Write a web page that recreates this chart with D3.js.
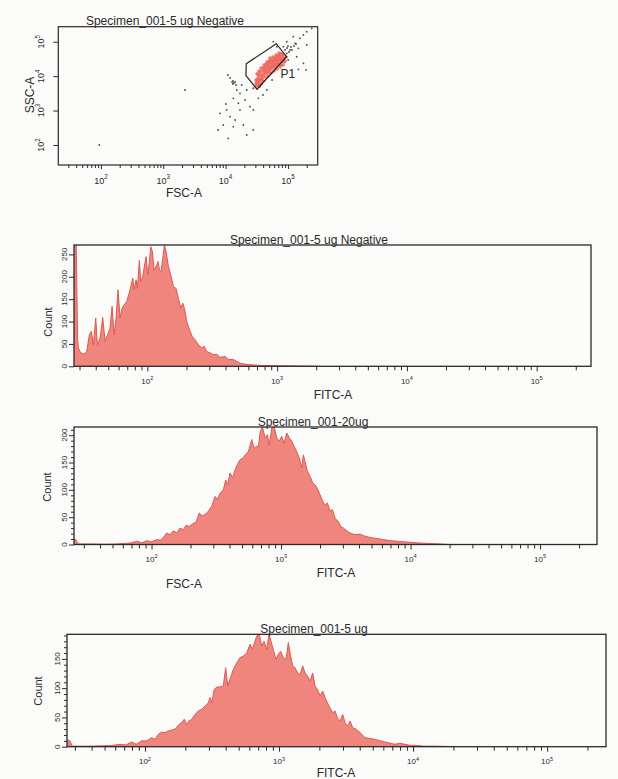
<!DOCTYPE html>
<html><head><meta charset="utf-8">
<script src="https://cdn.jsdelivr.net/npm/d3@7"></script>
<style>
html,body{margin:0;padding:0;background:#fbfbf9;}
svg{display:block;}
</style></head><body>
<svg id="chart" width="618" height="779"></svg>
<script>
// ---------------- DATA ----------------
const scatterTitle = "Specimen_001-5 ug Negative";
const histTitles = ["Specimen_001-5 ug Negative", "Specimen_001-20ug", "Specimen_001-5 ug"];
const gateName = "P1";
const decadeTicks = [100, 1000, 10000, 100000];
const countTicksNeg = [0, 50, 100, 150, 200, 250];
const countTicks20 = [0, 50, 100, 150, 200];
const countTicks5 = [0, 50, 100, 150];

// P1 gate polygon [FSC-A, SSC-A]
const gateP1 = [[21400, 22800], [64900, 87500], [95000, 36600], [31900, 4170], [21200, 10400]];

// events inside P1 [FSC-A, SSC-A]
const p1Events = [
[30800,5170],[31900,5910],[33100,6750],[34400,5170],[30800,7720],[33100,8830],[35700,7720],[37000,5910],
[34400,10100],[37000,10800],[38400,8830],[39900,7220],[35700,13200],[38400,14100],[41400,11500],[42900,9440],
[39900,17200],[42900,18400],[44600,15100],[46200,12300],[48000,10100],[44600,22500],[48000,22500],[49800,18400],
[51600,15100],[53600,12300],[49800,25700],[53600,25700],[55600,21000],[57700,17200],[59900,14100],[55600,29400],
[59900,29400],[62200,24100],[64500,19700],[66900,16100],[62200,33600],[66900,33600],[69400,27500],[72100,22500],
[74800,18400],[69400,38400],[74800,38400],[77600,31400],[80500,25700],[83600,21000],[77600,43900],[83600,41100],
[86700,33600],[90000,27500],[39900,10100],[46200,15100],[51600,19700],[57700,24100],[64500,27500],[72100,31400],
[80500,33600],[41400,14100],[48000,16100],[55600,18400],[62200,19700],[69400,22500],[37000,8260],[31900,7720],
[51600,29400],[86700,25700],[93400,35900],[33100,5520],[35700,6310],[38400,10800],[44600,12300],[49800,13200],
[53600,17200],[59900,21000],[66900,24100],[74800,27500],[83600,31400],[42900,14100],[46200,19700],[51600,24100],
[57700,27500],[64500,31400],[72100,35900],[80500,41100],
[31900,11500],[34400,14100],[37000,17200],[41400,21000],[46200,25700],[51600,33600],[57700,35900],[64500,41100],
[72100,47000],[33100,11500],[41400,17200],[48000,25700],[53600,29400],[59900,33600],[66900,38400],[74800,43900],
[30800,6310],[34400,7720],[38400,7720]
];

// events outside P1 [FSC-A, SSC-A]
const otherEvents = [
[84400,71700],[95700,100000],[108000,57400],[130000,89900],[156000,126000],[147000,64300],[177000,157000],
[200000,195000],[241000,245000],[122000,140000],[95700,46000],[79500,46000],[177000,23600],[138000,36600],
[66100,71700],[58300,100000],[195000,15100],[147000,15800],[200000,80200],[89800,57400],[96800,65600],
[104000,50200],[112000,70200],[116000,57400],[125000,75000],[100000,75000],[135000,85800],[13100,7220],
[13600,6310],[12700,6750],[14200,6750],[13100,5910],[11800,8830],[10900,10800],[14700,5520],[15100,3960],
[17000,3170],[13300,2270],[16000,1630],[21800,3960],[27800,4440],[33500,2270],[24600,1300],[27800,1040],
[10400,1040],[8130,832],[11800,664],[9180,381],[13300,340],[19200,381],[21800,195],[11000,156],[27800,272],
[17000,1040],[14200,532],[35600,4930],[45700,3960],[18100,5520],[2230,3960],[94,100],[39800,2830],
[20500,2030],[10100,1550],[7550,272],[55600,7720],[100600,29400],[77600,21000]
];

// histograms [FITC-A, Count]
const negativeHist = [
[27.2,271],[28.3,271],[29.0,60],[29.4,41],[30.6,30],[32.5,27],[34.1,33],[35.7,70],[37.0,78],[38.4,48],
[40.0,108],[41.2,48],[43.2,63],[45.3,109],[47.2,56],[49.2,70],[51.5,85],[53.5,134],[55.4,70],[57.4,108],
[59.4,171],[61.6,108],[63.8,130],[66.1,137],[69.3,145],[72.3,163],[74.5,178],[77.2,197],[78.9,171],[81.8,193],
[83.7,174],[86.8,237],[88.9,189],[92.1,200],[94.3,219],[97.7,245],[100.7,204],[103.7,234],[106.2,267],[109.4,256],
[112.7,215],[116.7,223],[120.9,234],[123.8,215],[127.5,212],[131.4,241],[135.3,271],[139.4,256],[145.3,223],
[151.4,204],[158.8,178],[166.4,174],[173.4,152],[180.8,130],[187.5,141],[194.2,126],[201.2,100],[211.0,82],
[221.2,67],[233.4,59],[247.5,48],[262.4,41],[273.5,45],[286.8,33],[304.3,30],[322.7,26],[342.5,27],[363.7,20],
[397.5,22],[421.7,15],[460.6,15],[518.4,7],[583.7,4],[657.1,3],[739.6,2],[900,1.5],[1200,1],[1600,0.5],[2100,0]
];
const ug20Hist = [
[25.2,11],[26.1,8],[27.2,1],[35,1],[45,0.5],[53.8,1],[62,2],[70,3],[76.9,6],[84,3],[91.9,7],[100,5],
[109.7,9],[117,8],[123.4,13],[130.9,21],[138.9,18],[147.3,25],[156.6,21],[166.0,30],[176.1,27],[184.7,35],
[195.9,33],[208,38],[220.8,41],[234,58],[244.2,52],[259,55],[274.8,61],[291.6,70],[309.3,88],[322.2,82],
[338.1,94],[358.4,100],[374,118],[387.5,109],[403.6,131],[423.5,122],[441.3,137],[459.6,146],[482.2,155],
[505.9,158],[530.1,164],[559.2,170],[593.8,192],[619.4,176],[649,180],[668,178],[688.6,204],[717.7,216],
[752,195],[784,201],[812,182],[847,213],[884,216],[926,195],[970,189],[1012,198],[1055,185],[1107,204],
[1160,195],[1210,189],[1260,180],[1322,170],[1385,158],[1444,140],[1487,164],[1531,152],[1596,134],[1674,125],
[1756,113],[1831,109],[1906,103],[2000,91],[2098,79],[2187,72],[2280,76],[2391,61],[2491,64],[2612,48],
[2770,42],[2889,33],[3029,30],[3216,25],[3411,21],[3727,18],[4073,19],[4451,15],[4864,13],[5480,11],
[6173,9],[6954,7],[7834,6],[8825,5],[9910,4],[11160,3],[12570,2.4],[14160,1.8],[16900,1],[20000,0]
];
const ug5Hist = [
[26.2,12],[27.5,10],[28.7,1],[40,1],[56.4,2],[65,4],[72,3],[79.6,8],[86,4],[94.5,10],[103,10],[112.2,15.5],
[118.8,12.6],[125.7,21],[133.3,25],[141,24],[149.3,27],[158.2,28.5],[167.5,30],[179.4,38],[187.8,41],[196.5,47],
[204.6,38],[212.9,44],[223.2,47],[236.2,55],[250,61],[264.9,64],[280.5,69],[296.8,75],[305.4,84],[314.4,75],
[328.9,98],[344.5,102],[362.8,102],[384,104],[400,135],[414,104],[430.6,115],[456,132],[483,143],[511.5,152],
[541.8,155],[573.8,160],[607.8,175],[632.6,166],[662.4,180],[681,189],[713,192],[743,172],[773,180],[809,166],
[842,192],[871,180],[907,166],[950,149],[989,158],[1029,163],[1077,152],[1128,149],[1174,178],[1208,160],
[1265,138],[1316,135],[1378,126],[1435,123],[1503,138],[1564,126],[1627,121],[1703,112],[1783,126],[1856,104],
[1932,98],[2023,87],[2118,95],[2205,84],[2295,75],[2403,66],[2516,58],[2619,61],[2726,49],[2854,44],[2988,55],
[3110,41],[3237,35],[3389,44],[3548,32],[3757,30],[3910,27],[4142,21],[4385,15.5],[4779,14],[5207,12.6],
[5674,10],[6182,8],[6736,6],[7339,4],[7997,6],[8713,4],[9493,2.3],[10650,2.3],[11940,1],[14180,1],[22000,0]
];

// ---------------- DRAWING ----------------
const FONT = '"Liberation Sans", Arial, Helvetica, sans-serif';
const INK = "#2a2a2a";
const FILL = "#ef857d";
const EDGE = "#dc5a50";
const svg = d3.select("#chart").attr("font-family", FONT);

function logTickSets(lo, hi) {
  const major = [], minor = [];
  for (let d = 10; d <= 1e6; d *= 10) {
    for (let m = 1; m <= 9; m++) {
      const v = m * d;
      if (v > lo && v < hi) (m === 1 ? major : minor).push(v);
    }
  }
  return { major, minor };
}

function powLabel(g, x, y, v, size, rotate) {
  const e = Math.round(Math.log10(v));
  const t = g.append("text").attr("fill", INK).attr("font-size", size).attr("text-anchor", "middle");
  if (rotate) t.attr("transform", `translate(${x},${y}) rotate(-90)`).attr("dy", "0.35em");
  else t.attr("x", x).attr("y", y);
  t.append("tspan").text("10");
  t.append("tspan").attr("dy", -size * 0.45).attr("font-size", size * 0.7).text(e);
}

function cleanAxis(sel) { sel.select(".domain").remove(); sel.selectAll("line").attr("stroke", INK).attr("stroke-width", 1); }

// ----- scatter FSC-A / SSC-A -----
(function () {
  const L = { left: 58.3, right: 317.7, top: 26.7, bottom: 165 };
  const x = d3.scaleLog().domain([20.7, 300000]).range([L.left, L.right]);
  const y = d3.scaleLog().domain([26.2, 273000]).range([L.bottom, L.top]);
  const g = svg.append("g");
  g.append("defs").append("clipPath").attr("id", "clipS").append("rect")
    .attr("x", L.left).attr("y", L.top).attr("width", L.right - L.left).attr("height", L.bottom - L.top);
  const pts = g.append("g").attr("clip-path", "url(#clipS)");
  pts.selectAll("circle.o").data(otherEvents).join("circle").attr("class", "o")
    .attr("cx", d => x(d[0])).attr("cy", d => y(d[1])).attr("r", 0.9).attr("fill", "#4a4a4a");
  pts.selectAll("circle.p").data(p1Events).join("circle").attr("class", "p")
    .attr("cx", d => x(d[0])).attr("cy", d => y(d[1])).attr("r", 1.8).attr("fill", "#ee6a60").attr("opacity", 0.9);
  g.append("path").datum(gateP1)
    .attr("d", d => d3.line().x(p => x(p[0])).y(p => y(p[1]))(d) + "Z")
    .attr("fill", "none").attr("stroke", "#222").attr("stroke-width", 1.2);
  g.append("text").attr("x", x(76000)).attr("y", y(8800)).attr("font-size", 12).attr("fill", INK).text(gateName);
  g.append("rect").attr("x", L.left).attr("y", L.top).attr("width", L.right - L.left).attr("height", L.bottom - L.top)
    .attr("fill", "none").attr("stroke", INK).attr("stroke-width", 1.2);
  const tk = logTickSets(20.7, 300000);
  g.append("g").attr("transform", `translate(0,${L.bottom})`)
    .call(d3.axisBottom(x).tickValues(tk.minor).tickSize(3).tickFormat("")).call(cleanAxis);
  g.append("g").attr("transform", `translate(0,${L.bottom})`)
    .call(d3.axisBottom(x).tickValues(tk.major).tickSize(4).tickFormat("")).call(cleanAxis);
  g.append("g").attr("transform", `translate(${L.left},0)`)
    .call(d3.axisLeft(y).tickValues(decadeTicks).tickSize(5).tickFormat("")).call(cleanAxis);
  decadeTicks.forEach(v => powLabel(g, x(v), 183.5, v, 9, false));
  decadeTicks.forEach(v => powLabel(g, 41, y(v), v, 9, true));
  g.append("text").attr("x", 165).attr("y", 25).attr("text-anchor", "middle").attr("font-size", 12).attr("fill", INK).text(scatterTitle);
  g.append("text").attr("x", 184).attr("y", 197).attr("text-anchor", "middle").attr("font-size", 12).attr("fill", INK).text("FSC-A");
  g.append("text").attr("transform", "translate(30,95) rotate(-90)").attr("dy", "0.35em")
    .attr("text-anchor", "middle").attr("font-size", 12).attr("fill", INK).text("SSC-A");
})();

// ----- histograms -----
function drawHist(id, L, data, title, countTicks, minorStep) {
  const x = d3.scaleLog().domain(L.xDomain).range([L.left, L.right]);
  const y = d3.scaleLinear().domain(L.yDomain).range([L.bottom, L.top]);
  const g = svg.append("g");
  g.append("defs").append("clipPath").attr("id", id).append("rect")
    .attr("x", L.left).attr("y", L.top).attr("width", L.right - L.left).attr("height", L.bottom - L.top);
  const body = g.append("g").attr("clip-path", `url(#${id})`);
  body.append("path").datum(data)
    .attr("d", d3.area().x(d => x(d[0])).y0(L.bottom).y1(d => y(d[1])))
    .attr("fill", FILL);
  body.append("path").datum(data)
    .attr("d", d3.line().x(d => x(d[0])).y(d => y(d[1])))
    .attr("fill", "none").attr("stroke", EDGE).attr("stroke-width", 1);
  g.append("rect").attr("x", L.left).attr("y", L.top).attr("width", L.right - L.left).attr("height", L.bottom - L.top)
    .attr("fill", "none").attr("stroke", INK).attr("stroke-width", 1.3);
  const tk = logTickSets(L.xDomain[0], L.xDomain[1]);
  g.append("g").attr("transform", `translate(0,${L.bottom})`)
    .call(d3.axisBottom(x).tickValues(tk.minor).tickSize(4).tickFormat("")).call(cleanAxis);
  g.append("g").attr("transform", `translate(0,${L.bottom})`)
    .call(d3.axisBottom(x).tickValues(tk.major).tickSize(5).tickFormat("")).call(cleanAxis);
  if (minorStep) {
    const minorY = d3.range(0, L.yDomain[1], minorStep).filter(v => !countTicks.includes(v));
    g.append("g").attr("transform", `translate(${L.left},0)`)
      .call(d3.axisLeft(y).tickValues(minorY).tickSize(3).tickFormat("")).call(cleanAxis);
  }
  g.append("g").attr("transform", `translate(${L.left},0)`)
    .call(d3.axisLeft(y).tickValues(countTicks).tickSize(5).tickFormat("")).call(cleanAxis);
  countTicks.forEach(v => g.append("text").attr("transform", `translate(${L.left - 10},${y(v)}) rotate(-90)`)
    .attr("dy", "0.35em").attr("text-anchor", "middle").attr("font-size", 8).attr("fill", INK).text(v));
  tk.major.forEach(v => powLabel(g, x(v), L.bottom + 17.5, v, 8, false));
  g.append("text").attr("x", L.titleX).attr("y", L.top - 1.5).attr("text-anchor", "middle")
    .attr("font-size", 12).attr("fill", INK).text(title);
  g.append("text").attr("x", L.labelX).attr("y", L.labelY).attr("text-anchor", "middle")
    .attr("font-size", 12).attr("fill", INK).text("FITC-A");
  g.append("text").attr("transform", `translate(${L.countX},${L.countY}) rotate(-90)`).attr("dy", "0.35em")
    .attr("text-anchor", "middle").attr("font-size", 11).attr("fill", INK).text("Count");
}

drawHist("clipH1", { left: 74, right: 591, top: 245, bottom: 366.3, xDomain: [27.2, 262144], yDomain: [0, 271],
  titleX: 309, labelX: 333, labelY: 399, countX: 48, countY: 322 }, negativeHist, histTitles[0], countTicksNeg, 0);
drawHist("clipH2", { left: 74, right: 597, top: 427, bottom: 544.5, xDomain: [25.2, 275000], yDomain: [0, 215],
  titleX: 313, labelX: 336, labelY: 577, countX: 47, countY: 487 }, ug20Hist, histTitles[1], countTicks20, 10);
drawHist("clipH3", { left: 67, right: 606, top: 634.3, bottom: 746.7, xDomain: [26.2, 275000], yDomain: [0, 192],
  titleX: 314, labelX: 336, labelY: 776.5, countX: 38, countY: 691 }, ug5Hist, histTitles[2], countTicks5, 10);

// stray label on the scanned page
svg.append("text").attr("x", 184).attr("y", 588).attr("text-anchor", "middle")
  .attr("font-size", 12).attr("fill", INK).text("FSC-A");
</script>
</body></html>
